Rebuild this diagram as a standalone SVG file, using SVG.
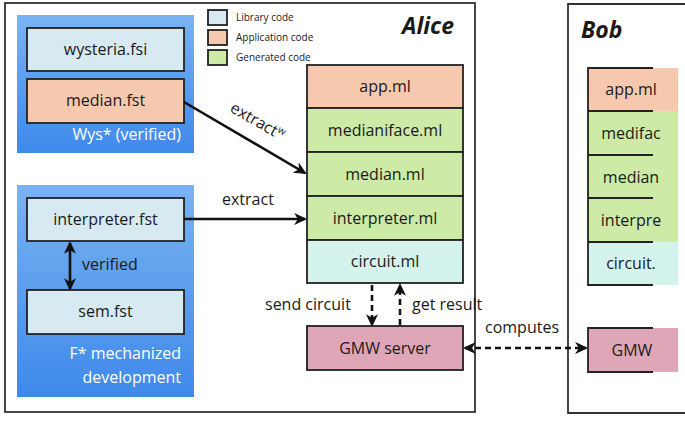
<svg xmlns="http://www.w3.org/2000/svg" width="685" height="422" viewBox="0 0 685 422">
<style>
text{font-family:"Open Sans","Liberation Sans",sans-serif;fill:#1a1a1a}
.lbl{font-size:16px;text-anchor:middle}
.leg{font-size:10px}
.wt{font-size:16px;fill:#fff;text-anchor:end}
.box{stroke:#222;stroke-width:1.8}
.lib{fill:#d7e9f1}
.app{fill:#f6c9ae}
.gen{fill:#cdeaa6}
.cir{fill:#d3f3ec}
.gmw{fill:#dfa6b7}
.frame{fill:#fff;stroke:#333;stroke-width:1.8}
.conn{fill:none;stroke:#111;stroke-width:2.6}
.dash{fill:none;stroke:#111;stroke-width:2.6;stroke-dasharray:6,4}
.party{font-size:23px;font-weight:bold;font-style:italic}
</style>
<defs>
<linearGradient id="blue" x1="0" y1="0" x2="0" y2="1">
<stop offset="0" stop-color="#79b3f2"/>
<stop offset="1" stop-color="#3f89e9"/>
</linearGradient>
<marker id="ah" viewBox="0 0 10 10" refX="9" refY="5" markerWidth="4.5" markerHeight="4.5" orient="auto-start-reverse" markerUnits="strokeWidth">
<path d="M1,1 L9.5,5 L1,9 L3.5,5 Z" fill="#111" stroke="#111" stroke-width="1" stroke-linejoin="miter"/>
</marker>
</defs>

<g id="alice">
<rect class="frame" x="5" y="3" width="470" height="409"/>
<text class="party" x="402" y="34">Alice</text>
</g>
<g id="bob">
<path d="M685,4 H568 V413 H685" fill="#fff" stroke="#333" stroke-width="1.8"/>
<text class="party" x="581" y="38">Bob</text>
</g>

<g id="legend">
<rect class="box lib" x="208" y="10" width="19" height="15" stroke-width="1.3"/>
<rect class="box app" x="208" y="30" width="19" height="15" stroke-width="1.3"/>
<rect class="box gen" x="208" y="50" width="19" height="15" stroke-width="1.3"/>
<text class="leg" x="236" y="21">Library code</text>
<text class="leg" x="236" y="41">Application code</text>
<text class="leg" x="236" y="61">Generated code</text>
</g>

<g id="wys">
<rect x="17" y="15" width="177" height="138" fill="url(#blue)"/>
<text class="wt" x="181" y="140">Wys* (verified)</text>
</g>
<g id="wysteria-fsi">
<rect class="box lib" x="27" y="28" width="157" height="43"/>
<text class="lbl" x="105.5" y="55">wysteria.fsi</text>
</g>
<g id="median-fst">
<rect class="box app" x="27" y="79" width="157" height="44"/>
<text class="lbl" x="105.5" y="106">median.fst</text>
</g>

<g id="fstar">
<rect x="17" y="185" width="177" height="212" fill="url(#blue)"/>
<text class="wt" x="181" y="359">F* mechanized</text>
<text class="wt" x="181" y="383">development</text>
</g>
<g id="interpreter-fst">
<rect class="box lib" x="27" y="198" width="157" height="43"/>
<text class="lbl" x="105.5" y="225">interpreter.fst</text>
</g>
<g id="sem-fst">
<rect class="box lib" x="27" y="290" width="157" height="44"/>
<text class="lbl" x="105.5" y="317">sem.fst</text>
</g>

<g id="alice-stack">
<rect class="box app" x="307" y="65" width="156" height="43"/>
<text class="lbl" x="385" y="92">app.ml</text>
<rect class="box gen" x="307" y="108" width="156" height="44"/>
<text class="lbl" x="385" y="136">medianiface.ml</text>
<rect class="box gen" x="307" y="152" width="156" height="44"/>
<text class="lbl" x="385" y="180">median.ml</text>
<rect class="box gen" x="307" y="196" width="156" height="44"/>
<text class="lbl" x="385" y="224">interpreter.ml</text>
<rect class="box cir" x="307" y="240" width="156" height="43"/>
<text class="lbl" x="385" y="267">circuit.ml</text>
</g>
<g id="alice-gmw">
<rect class="box gmw" x="307" y="326" width="156" height="44"/>
<text class="lbl" x="385" y="354">GMW server</text>
</g>

<g id="bob-stack">
<rect class="app" x="588" y="68" width="90" height="43"/>
<rect class="gen" x="588" y="111" width="90" height="87"/>
<rect class="gen" x="588" y="198" width="90" height="44"/>
<rect class="cir" x="588" y="242" width="90" height="43"/>
<path d="M653,68 H588 V285 H653 M588,111 H653 M588,155 H653 M588,198 H653 M588,242 H653" fill="none" stroke="#222" stroke-width="1.8"/>
<text class="lbl" x="631" y="95">app.ml</text>
<text class="lbl" x="631" y="139">medifac</text>
<text class="lbl" x="631" y="183">median</text>
<text class="lbl" x="631" y="226">interpre</text>
<text class="lbl" x="631" y="269">circuit.</text>
</g>
<g id="bob-gmw">
<rect class="gmw" x="588" y="328" width="90" height="44"/>
<path d="M653,328 H588 V372 H653" fill="none" stroke="#222" stroke-width="1.8"/>
<text class="lbl" x="632" y="356">GMW</text>
</g>

<g id="connectors">
<path class="conn" d="M184,102 L305,173" marker-end="url(#ah)"/>
<text transform="translate(229,111) rotate(30)" style="font-size:16px">extract<tspan style="font-size:10px" dy="-6">w</tspan></text>
<path class="conn" d="M184,219 L305,219" marker-end="url(#ah)"/>
<text x="222" y="205" style="font-size:16px">extract</text>
<path class="conn" d="M70,243 L70,289" marker-start="url(#ah)" marker-end="url(#ah)"/>
<text x="82" y="270" style="font-size:16px">verified</text>
<path class="dash" d="M372,285 L372,325" marker-end="url(#ah)"/>
<path class="dash" d="M400,325 L400,285" marker-end="url(#ah)"/>
<text x="265" y="310" style="font-size:16px">send circuit</text>
<text x="412" y="310" style="font-size:16px">get result</text>
<path class="dash" d="M465,348 L586,348" marker-start="url(#ah)" marker-end="url(#ah)"/>
<text x="485" y="333" style="font-size:16px">computes</text>
</g>
</svg>
